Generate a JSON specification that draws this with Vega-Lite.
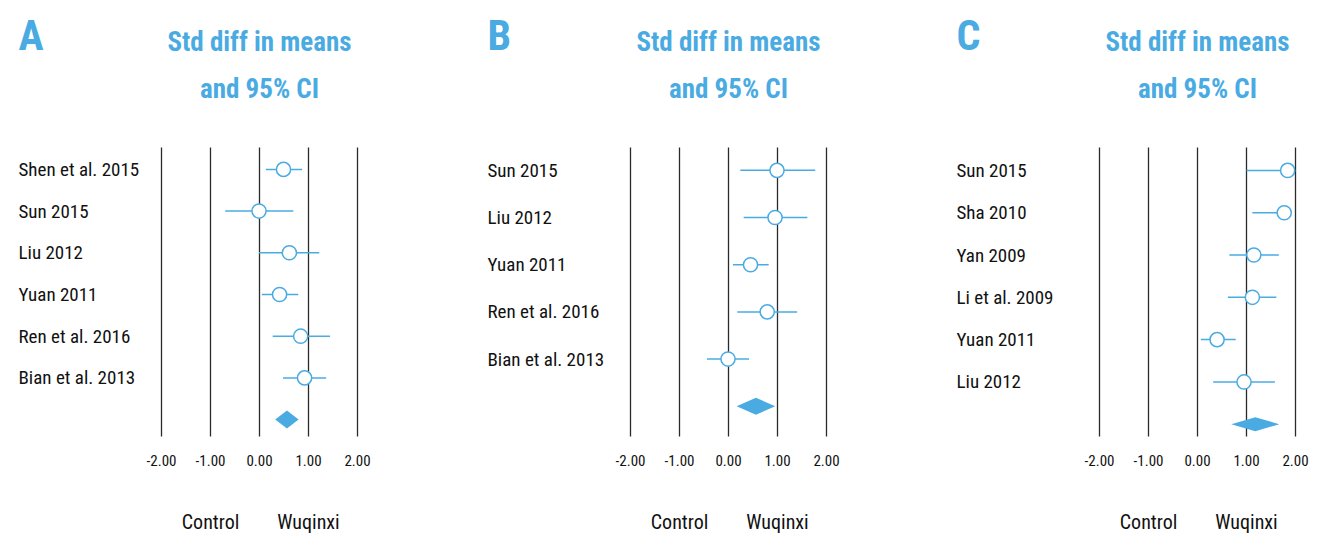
{
  "$schema": "https://vega.github.io/schema/vega-lite/v6.json",
  "background": "white",
  "padding": {"left": 18, "top": 15, "right": 5, "bottom": 5},
  "bounds": "flush",
  "spacing": 273,
  "config": {
    "font": "Roboto Condensed, DejaVu Sans Condensed, Liberation Sans Narrow, Roboto, sans-serif",
    "view": {"stroke": null},
    "axis": {"labelFont": "Roboto Condensed, DejaVu Sans Condensed, Liberation Sans Narrow, Roboto, sans-serif", "titleFont": "Roboto Condensed, DejaVu Sans Condensed, Liberation Sans Narrow, Roboto, sans-serif"}
  },
  "datasets": {
    "A": [
      {"study": "Shen et al. 2015", "type": "study", "est": 0.50, "lo": 0.14, "hi": 0.88},
      {"study": "Sun 2015", "type": "study", "est": 0.00, "lo": -0.69, "hi": 0.70},
      {"study": "Liu 2012", "type": "study", "est": 0.62, "lo": 0.00, "hi": 1.23},
      {"study": "Yuan 2011", "type": "study", "est": 0.42, "lo": 0.06, "hi": 0.80},
      {"study": "Ren et al. 2016", "type": "study", "est": 0.85, "lo": 0.28, "hi": 1.45},
      {"study": "Bian et al. 2013", "type": "study", "est": 0.93, "lo": 0.49, "hi": 1.37},
      {"study": "Overall", "type": "overall", "est": 0.57, "lo": 0.34, "hi": 0.81}
    ],
    "B": [
      {"study": "Sun 2015", "type": "study", "est": 1.00, "lo": 0.25, "hi": 1.78},
      {"study": "Liu 2012", "type": "study", "est": 0.96, "lo": 0.32, "hi": 1.62},
      {"study": "Yuan 2011", "type": "study", "est": 0.46, "lo": 0.10, "hi": 0.83},
      {"study": "Ren et al. 2016", "type": "study", "est": 0.80, "lo": 0.19, "hi": 1.41},
      {"study": "Bian et al. 2013", "type": "study", "est": 0.00, "lo": -0.43, "hi": 0.43},
      {"study": "Overall", "type": "overall", "est": 0.57, "lo": 0.17, "hi": 0.96}
    ],
    "C": [
      {"study": "Sun 2015", "type": "study", "est": 1.85, "lo": 1.01, "hi": 2.00},
      {"study": "Sha 2010", "type": "study", "est": 1.78, "lo": 1.13, "hi": 1.90},
      {"study": "Yan 2009", "type": "study", "est": 1.16, "lo": 0.66, "hi": 1.67},
      {"study": "Li et al. 2009", "type": "study", "est": 1.13, "lo": 0.63, "hi": 1.62},
      {"study": "Yuan 2011", "type": "study", "est": 0.41, "lo": 0.08, "hi": 0.79},
      {"study": "Liu 2012", "type": "study", "est": 0.96, "lo": 0.33, "hi": 1.59},
      {"study": "Overall", "type": "overall", "est": 1.19, "lo": 0.71, "hi": 1.68}
    ]
  },
  "hconcat": [
    {
      "width": 196, "height": 289,
      "data": {"name": "A"},
      "resolve": {"axis": {"x": "independent"}},
      "layer": [
        {
          "transform": [{"filter": "datum.type == 'study'"}],
          "mark": {"type": "rule", "color": "#4aabe3", "strokeWidth": 1.5},
          "encoding": {
            "y": {"field": "study", "type": "nominal", "sort": null, "scale": {"type": "point", "padding": 0.465, "align": 0.577},
              "axis": {"title": "A", "titleAngle": 0, "titleAlign": "left", "titleBaseline": "alphabetic", "titleX": -143, "titleY": -98, "titleFontSize": 42, "titleFontWeight": "bold", "titleColor": "#4aabe3", "labelAlign": "left", "labelPadding": 143, "labelFontSize": 19, "labelColor": "#111", "ticks": false, "domain": false, "grid": false, "labelExpr": "datum.label == 'Overall' ? '' : datum.label"}},
            "x": {"field": "lo", "type": "quantitative", "scale": {"domain": [-2, 2], "nice": false, "zero": false},
              "axis": {"values": [-2, -1, 0, 1, 2], "labelExpr": "(datum.value < 0 ? '-' : '') + format(abs(datum.value), '.2f')", "grid": true, "gridColor": "#2a2a2a", "gridWidth": 1.3, "ticks": false, "domain": false, "labelPadding": 17, "labelFontSize": 15, "labelColor": "#111", "labelFlush": false, "title": null}},
            "x2": {"field": "hi"}
          }
        },
        {
          "transform": [{"filter": "datum.type == 'study'"}],
          "mark": {"type": "point", "shape": "circle", "filled": true, "fill": "white", "stroke": "#4aabe3", "strokeWidth": 1.5, "size": 200, "opacity": 1},
          "encoding": {
            "y": {"field": "study", "type": "nominal", "sort": null},
            "x": {"field": "est", "type": "quantitative",
              "axis": {"orient": "top", "labels": false, "ticks": false, "domain": false, "grid": false, "title": ["Std diff in means", "and 95% CI"], "titleFontSize": 27, "titleFontWeight": "bold", "titleColor": "#4aabe3", "titleLineHeight": 47, "titleBaseline": "alphabetic", "titleAlign": "center", "titleX": 98, "titleY": -97}}
          }
        },
        {
          "transform": [{"filter": "datum.type == 'overall'"}],
          "mark": {"type": "point", "shape": "M-1.17,0L0,-0.9L1.17,0L0,0.9Z", "filled": true, "color": "#4aabe3", "size": 400, "opacity": 1, "strokeWidth": 0},
          "encoding": {
            "y": {"field": "study", "type": "nominal", "sort": null},
            "x": {"field": "est", "type": "quantitative",
              "axis": {"orient": "bottom", "values": [-1, 1], "labelExpr": "datum.value < 0 ? 'Control' : 'Wuqinxi'", "grid": false, "ticks": false, "domain": false, "offset": 76, "labelPadding": 0, "labelFontSize": 20, "labelColor": "#111", "labelFlush": false, "title": null}}
          }
        }
      ]
    },
    {
      "width": 196, "height": 289,
      "data": {"name": "B"},
      "resolve": {"axis": {"x": "independent"}},
      "layer": [
        {
          "transform": [{"filter": "datum.type == 'study'"}],
          "mark": {"type": "rule", "color": "#4aabe3", "strokeWidth": 1.5},
          "encoding": {
            "y": {"field": "study", "type": "nominal", "sort": null, "scale": {"type": "point", "padding": 0.563, "align": 0.44},
              "axis": {"title": "B", "titleAngle": 0, "titleAlign": "left", "titleBaseline": "alphabetic", "titleX": -143, "titleY": -98, "titleFontSize": 42, "titleFontWeight": "bold", "titleColor": "#4aabe3", "labelAlign": "left", "labelPadding": 143, "labelFontSize": 19, "labelColor": "#111", "ticks": false, "domain": false, "grid": false, "labelExpr": "datum.label == 'Overall' ? '' : datum.label"}},
            "x": {"field": "lo", "type": "quantitative", "scale": {"domain": [-2, 2], "nice": false, "zero": false},
              "axis": {"values": [-2, -1, 0, 1, 2], "labelExpr": "(datum.value < 0 ? '-' : '') + format(abs(datum.value), '.2f')", "grid": true, "gridColor": "#2a2a2a", "gridWidth": 1.3, "ticks": false, "domain": false, "labelPadding": 17, "labelFontSize": 15, "labelColor": "#111", "labelFlush": false, "title": null}},
            "x2": {"field": "hi"}
          }
        },
        {
          "transform": [{"filter": "datum.type == 'study'"}],
          "mark": {"type": "point", "shape": "circle", "filled": true, "fill": "white", "stroke": "#4aabe3", "strokeWidth": 1.5, "size": 200, "opacity": 1},
          "encoding": {
            "y": {"field": "study", "type": "nominal", "sort": null},
            "x": {"field": "est", "type": "quantitative",
              "axis": {"orient": "top", "labels": false, "ticks": false, "domain": false, "grid": false, "title": ["Std diff in means", "and 95% CI"], "titleFontSize": 27, "titleFontWeight": "bold", "titleColor": "#4aabe3", "titleLineHeight": 47, "titleBaseline": "alphabetic", "titleAlign": "center", "titleX": 98, "titleY": -97}}
          }
        },
        {
          "transform": [{"filter": "datum.type == 'overall'"}],
          "mark": {"type": "point", "shape": "M-1.93,0L0,-0.85L1.93,0L0,0.85Z", "filled": true, "color": "#4aabe3", "size": 400, "opacity": 1, "strokeWidth": 0},
          "encoding": {
            "y": {"field": "study", "type": "nominal", "sort": null},
            "x": {"field": "est", "type": "quantitative",
              "axis": {"orient": "bottom", "values": [-1, 1], "labelExpr": "datum.value < 0 ? 'Control' : 'Wuqinxi'", "grid": false, "ticks": false, "domain": false, "offset": 76, "labelPadding": 0, "labelFontSize": 20, "labelColor": "#111", "labelFlush": false, "title": null}}
          }
        }
      ]
    },
    {
      "width": 196, "height": 289,
      "data": {"name": "C"},
      "resolve": {"axis": {"x": "independent"}},
      "layer": [
        {
          "transform": [{"filter": "datum.type == 'study'"}],
          "mark": {"type": "rule", "color": "#4aabe3", "strokeWidth": 1.5},
          "encoding": {
            "y": {"field": "study", "type": "nominal", "sort": null, "scale": {"type": "point", "padding": 0.416, "align": 0.665},
              "axis": {"title": "C", "titleAngle": 0, "titleAlign": "left", "titleBaseline": "alphabetic", "titleX": -143, "titleY": -98, "titleFontSize": 42, "titleFontWeight": "bold", "titleColor": "#4aabe3", "labelAlign": "left", "labelPadding": 143, "labelFontSize": 19, "labelColor": "#111", "ticks": false, "domain": false, "grid": false, "labelExpr": "datum.label == 'Overall' ? '' : datum.label"}},
            "x": {"field": "lo", "type": "quantitative", "scale": {"domain": [-2, 2], "nice": false, "zero": false},
              "axis": {"values": [-2, -1, 0, 1, 2], "labelExpr": "(datum.value < 0 ? '-' : '') + format(abs(datum.value), '.2f')", "grid": true, "gridColor": "#2a2a2a", "gridWidth": 1.3, "ticks": false, "domain": false, "labelPadding": 17, "labelFontSize": 15, "labelColor": "#111", "labelFlush": false, "title": null}},
            "x2": {"field": "hi"}
          }
        },
        {
          "transform": [{"filter": "datum.type == 'study'"}],
          "mark": {"type": "point", "shape": "circle", "filled": true, "fill": "white", "stroke": "#4aabe3", "strokeWidth": 1.5, "size": 200, "opacity": 1},
          "encoding": {
            "y": {"field": "study", "type": "nominal", "sort": null},
            "x": {"field": "est", "type": "quantitative",
              "axis": {"orient": "top", "labels": false, "ticks": false, "domain": false, "grid": false, "title": ["Std diff in means", "and 95% CI"], "titleFontSize": 27, "titleFontWeight": "bold", "titleColor": "#4aabe3", "titleLineHeight": 47, "titleBaseline": "alphabetic", "titleAlign": "center", "titleX": 98, "titleY": -97}}
          }
        },
        {
          "transform": [{"filter": "datum.type == 'overall'"}],
          "mark": {"type": "point", "shape": "M-2.4,0L0,-0.7L2.4,0L0,0.7Z", "filled": true, "color": "#4aabe3", "size": 400, "opacity": 1, "strokeWidth": 0},
          "encoding": {
            "y": {"field": "study", "type": "nominal", "sort": null},
            "x": {"field": "est", "type": "quantitative",
              "axis": {"orient": "bottom", "values": [-1, 1], "labelExpr": "datum.value < 0 ? 'Control' : 'Wuqinxi'", "grid": false, "ticks": false, "domain": false, "offset": 76, "labelPadding": 0, "labelFontSize": 20, "labelColor": "#111", "labelFlush": false, "title": null}}
          }
        }
      ]
    }
  ]
}
